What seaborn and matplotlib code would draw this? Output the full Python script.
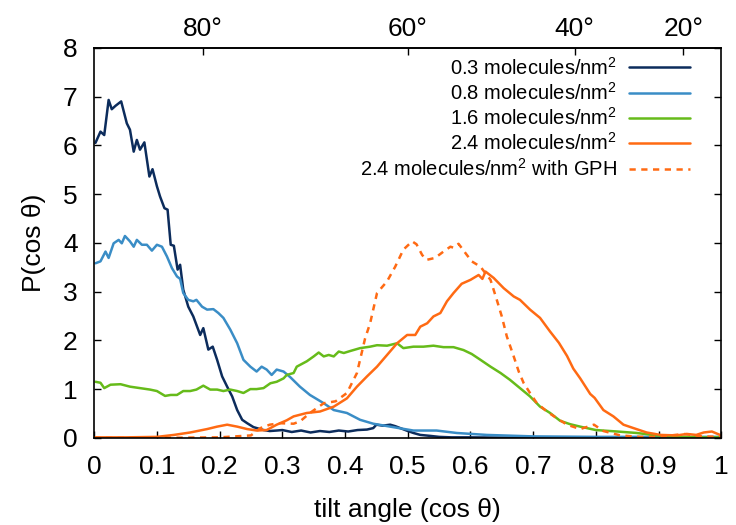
import numpy as np
import pandas as pd
import seaborn as sns
import matplotlib.pyplot as plt

# values (x = cos theta, y = P(cos theta))
x_03 = [0.002, 0.010, 0.016, 0.023, 0.028, 0.034, 0.043, 0.052, 0.057, 0.063, 0.068, 0.073,
        0.080, 0.088, 0.093, 0.100, 0.105, 0.112, 0.117, 0.122, 0.127, 0.133, 0.137, 0.142,
        0.150, 0.158, 0.169, 0.174, 0.182, 0.189, 0.196, 0.204, 0.212, 0.220, 0.228, 0.236,
        0.244, 0.254, 0.270, 0.280, 0.291, 0.300, 0.315, 0.330, 0.345, 0.360, 0.375, 0.390,
        0.405, 0.420, 0.435, 0.445, 0.450, 0.460, 0.472, 0.480, 0.488, 0.498, 0.509, 0.520,
        0.536, 0.550, 0.570, 0.600, 0.700, 0.800, 0.900, 1.0]
y_03 = [6.05, 6.28, 6.21, 6.93, 6.74, 6.81, 6.90, 6.45, 6.32, 5.87, 6.11, 5.91,
        6.06, 5.36, 5.51, 5.16, 4.95, 4.71, 4.68, 3.96, 3.94, 3.45, 3.55, 3.04,
        2.69, 2.49, 2.11, 2.25, 1.81, 1.87, 1.60, 1.26, 1.05, 0.85, 0.57, 0.37,
        0.30, 0.22, 0.16, 0.14, 0.15, 0.16, 0.12, 0.15, 0.11, 0.14, 0.12, 0.15,
        0.13, 0.16, 0.17, 0.20, 0.27, 0.25, 0.27, 0.24, 0.20, 0.15, 0.10, 0.06,
        0.04, 0.02, 0.01, 0.01, 0.0, 0.0, 0.0, 0.0]

x_08 = [0.002, 0.010, 0.018, 0.023, 0.031, 0.039, 0.044, 0.049, 0.057, 0.063, 0.068, 0.076,
        0.084, 0.092, 0.100, 0.108, 0.116, 0.124, 0.132, 0.137, 0.142, 0.150, 0.158, 0.163,
        0.172, 0.180, 0.190, 0.198, 0.206, 0.217, 0.228, 0.238, 0.249, 0.259, 0.267, 0.275,
        0.283, 0.291, 0.302, 0.313, 0.328, 0.344, 0.366, 0.382, 0.403, 0.424, 0.445, 0.472,
        0.509, 0.546, 0.578, 0.626, 0.700, 0.800, 0.900, 1.0]
y_08 = [3.58, 3.62, 3.82, 3.69, 3.99, 4.06, 3.99, 4.14, 4.03, 3.92, 4.06, 3.96,
        3.96, 3.84, 3.96, 3.92, 3.72, 3.48, 3.31, 3.26, 2.97, 2.83, 2.80, 2.83,
        2.69, 2.63, 2.64, 2.56, 2.46, 2.22, 1.94, 1.60, 1.46, 1.36, 1.46, 1.40,
        1.29, 1.40, 1.36, 1.24, 1.05, 0.88, 0.71, 0.57, 0.51, 0.37, 0.29, 0.23,
        0.15, 0.15, 0.10, 0.06, 0.03, 0.02, 0.02, 0.02]

x_16 = [0.002, 0.010, 0.016, 0.026, 0.042, 0.057, 0.073, 0.089, 0.100, 0.113, 0.122, 0.132,
        0.142, 0.153, 0.163, 0.174, 0.185, 0.196, 0.206, 0.217, 0.228, 0.238, 0.249, 0.259,
        0.270, 0.281, 0.291, 0.302, 0.307, 0.318, 0.323, 0.339, 0.350, 0.358, 0.366, 0.374,
        0.382, 0.390, 0.398, 0.408, 0.424, 0.440, 0.451, 0.467, 0.483, 0.493, 0.509, 0.525,
        0.541, 0.557, 0.573, 0.589, 0.602, 0.616, 0.632, 0.648, 0.663, 0.679, 0.695, 0.711,
        0.727, 0.743, 0.759, 0.775, 0.800, 0.834, 0.865, 0.897, 0.930, 0.960, 1.0]
y_16 = [1.15, 1.13, 1.02, 1.09, 1.10, 1.05, 1.02, 0.99, 0.96, 0.86, 0.88, 0.88,
        0.96, 0.96, 0.99, 1.07, 0.99, 0.99, 0.96, 0.99, 0.96, 0.92, 1.00, 1.00,
        1.02, 1.12, 1.15, 1.22, 1.29, 1.33, 1.46, 1.57, 1.67, 1.75, 1.67, 1.70,
        1.67, 1.77, 1.74, 1.78, 1.84, 1.87, 1.90, 1.89, 1.94, 1.84, 1.87, 1.87,
        1.89, 1.86, 1.86, 1.80, 1.72, 1.60, 1.46, 1.33, 1.19, 1.02, 0.85, 0.64,
        0.51, 0.35, 0.28, 0.23, 0.16, 0.13, 0.10, 0.05, 0.02, 0.01, 0.01]

x_24 = [0.0, 0.05, 0.10, 0.127, 0.153, 0.180, 0.196, 0.212, 0.228, 0.244, 0.259, 0.275,
        0.291, 0.307, 0.318, 0.339, 0.360, 0.382, 0.403, 0.419, 0.435, 0.451, 0.467, 0.483,
        0.499, 0.512, 0.520, 0.531, 0.541, 0.552, 0.5625, 0.573, 0.586, 0.600, 0.613, 0.619,
        0.624, 0.637, 0.653, 0.669, 0.679, 0.695, 0.711, 0.727, 0.741, 0.754, 0.764, 0.775,
        0.791, 0.798, 0.812, 0.828, 0.844, 0.860, 0.881, 0.903, 0.929, 0.945, 0.960, 0.972,
        0.985, 0.998]
y_24 = [0.01, 0.01, 0.02, 0.06, 0.11, 0.18, 0.23, 0.27, 0.23, 0.18, 0.15, 0.16,
        0.27, 0.36, 0.44, 0.51, 0.54, 0.64, 0.81, 1.05, 1.26, 1.46, 1.70, 1.94,
        2.11, 2.11, 2.28, 2.35, 2.49, 2.56, 2.80, 2.97, 3.16, 3.24, 3.34, 3.26,
        3.41, 3.28, 3.07, 2.90, 2.83, 2.63, 2.46, 2.18, 1.95, 1.68, 1.42, 1.22,
        0.90, 0.82, 0.57, 0.44, 0.27, 0.20, 0.11, 0.06, 0.05, 0.08, 0.06, 0.11,
        0.13, 0.06]

x_gph = [0.0, 0.10, 0.20, 0.25, 0.265, 0.28, 0.297, 0.318, 0.3285, 0.344, 0.366, 0.385,
         0.403, 0.419, 0.432, 0.440, 0.451, 0.467, 0.480, 0.493, 0.507, 0.514, 0.523, 0.530,
         0.5435, 0.557, 0.568, 0.573, 0.581, 0.592, 0.602, 0.616, 0.632, 0.642, 0.650, 0.658,
         0.669, 0.677, 0.685, 0.695, 0.706, 0.722, 0.738, 0.754, 0.775, 0.797, 0.812, 0.839,
         0.870, 0.900, 0.940, 0.970, 1.0]
y_gph = [0.0, 0.0, 0.01, 0.05, 0.20, 0.27, 0.30, 0.29, 0.34, 0.51, 0.71, 0.75,
         0.92, 1.33, 2.04, 2.35, 2.97, 3.21, 3.51, 3.86, 4.03, 3.97, 3.75, 3.65,
         3.69, 3.82, 3.92, 3.90, 3.98, 3.79, 3.62, 3.51, 3.24, 2.83, 2.49, 2.08,
         1.67, 1.36, 1.12, 0.92, 0.71, 0.54, 0.40, 0.27, 0.18, 0.27, 0.14, 0.05,
         0.02, 0.02, 0.08, 0.03, 0.02]

labels = ["0.3 molecules/nm$^2$", "0.8 molecules/nm$^2$", "1.6 molecules/nm$^2$",
          "2.4 molecules/nm$^2$", "2.4 molecules/nm$^2$ with GPH"]
colors = ["#0c2c5c", "#3a8dc6", "#66bb1a", "#ff6a13", "#ff6a13"]
angle_ticks = [80, 60, 40, 20]

sns.set_style("ticks")
plt.rcParams['font.family'] = ['Liberation Sans', 'DejaVu Sans']
plt.rcParams['mathtext.fontset'] = 'custom'
plt.rcParams['mathtext.rm'] = 'Liberation Sans'
plt.rcParams['mathtext.it'] = 'Liberation Sans:italic'
for key in ['text.color', 'axes.labelcolor', 'xtick.color', 'ytick.color', 'axes.edgecolor']:
    plt.rcParams[key] = 'black'

fig, ax = plt.subplots(figsize=(7.36, 5.25), dpi=100)
fig.subplots_adjust(left=0.128, right=0.980, bottom=0.166, top=0.909)

series = [(x_03, y_03), (x_08, y_08), (x_16, y_16), (x_24, y_24), (x_gph, y_gph)]
for (xs, ys), lab, col in zip(series, labels, colors):
    df = pd.DataFrame({"cos": xs, "P": ys})
    sns.lineplot(data=df, x="cos", y="P", ax=ax, color=col, lw=1.8, label=lab)
ax.lines[-1].set_dashes((2.5, 2.2))

ax.set_xlim(0, 1)
ax.set_ylim(0, 8)
ax.set_xticks(np.arange(0, 1.01, 0.1), ["0", "0.1", "0.2", "0.3", "0.4", "0.5",
                                         "0.6", "0.7", "0.8", "0.9", "1"])
ax.set_yticks(range(9))
ax.tick_params(direction='in', length=5, width=1, labelsize=19, pad=12,
               top=False, right=True, colors='black')
ax.set_xlabel("tilt angle (cos θ)", fontsize=19, labelpad=14)
ax.set_ylabel("P(cos θ)", fontsize=19, labelpad=12)
for sp in ax.spines.values():
    sp.set_linewidth(1.2)
    sp.set_color("black")

top = ax.secondary_xaxis('top')
top.set_xticks(np.cos(np.radians(angle_ticks)), [f"{a}°" for a in angle_ticks])
top.tick_params(direction='in', length=5, width=1, labelsize=19, pad=5, colors='black')
top.spines['top'].set_linewidth(1.2)

ax.legend(loc='upper right', bbox_to_anchor=(0.972, 1.014), markerfirst=False,
          frameon=False, fontsize=14.5, handlelength=3.0, handletextpad=0.6,
          labelspacing=0.17, borderaxespad=0.3)

plt.savefig("out.png", dpi=100)
